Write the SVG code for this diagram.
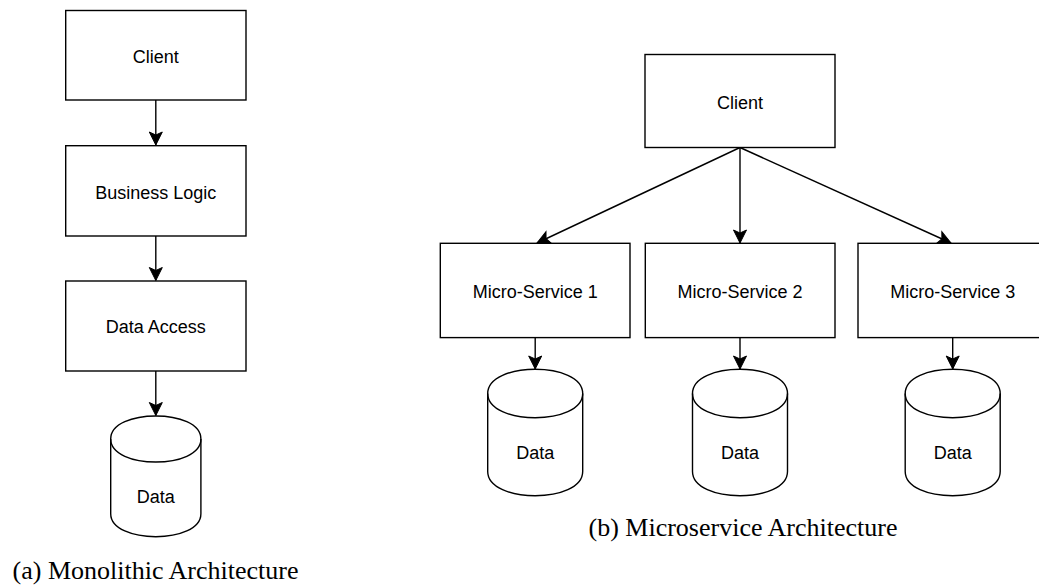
<svg xmlns="http://www.w3.org/2000/svg" width="1039" height="586" viewBox="0 0 1039 586">
<style>
.box{fill:#fff;stroke:#000;stroke-width:1.4}
.lbl{font-family:"Liberation Sans",Arial,sans-serif;font-size:18px;fill:#000;text-anchor:middle}
.cap{font-family:"Liberation Serif","Times New Roman",serif;font-size:26px;fill:#000;text-anchor:middle}
.edge{fill:none;stroke:#000;stroke-width:1.4;marker-end:url(#arr)}
</style>
<defs>
<marker id="arr" markerUnits="userSpaceOnUse" markerWidth="16" markerHeight="16" viewBox="-14 -8 16 16" refX="0" refY="0" orient="auto">
<path d="M0,0 L-13,-6.5 L-10,0 L-13,6.5 Z" fill="#000" stroke="#000" stroke-width="1"/>
</marker>
</defs>
<rect width="1039" height="586" fill="#fff"/>
<g id="connectors">
<line class="edge" x1="155.8" y1="100" x2="155.8" y2="145"/>
<line class="edge" x1="155.8" y1="236" x2="155.8" y2="280.5"/>
<line class="edge" x1="155.8" y1="371" x2="155.8" y2="415.5"/>
<line class="edge" x1="740" y1="147.5" x2="537" y2="243"/>
<line class="edge" x1="740" y1="147.5" x2="740" y2="243"/>
<line class="edge" x1="740" y1="147.5" x2="951" y2="243"/>
<line class="edge" x1="535.2" y1="337.5" x2="535.2" y2="369"/>
<line class="edge" x1="740" y1="337.5" x2="740" y2="369"/>
<line class="edge" x1="952.7" y1="337.5" x2="952.7" y2="369"/>
</g>
<g id="a-client"><rect class="box" x="65.7" y="10.5" width="180.3" height="89.5"/><text class="lbl" x="155.8" y="63">Client</text></g>
<g id="a-business"><rect class="box" x="65.7" y="145.7" width="180.3" height="90.3"/><text class="lbl" x="155.8" y="199">Business Logic</text></g>
<g id="a-access"><rect class="box" x="65.7" y="281" width="180.3" height="90"/><text class="lbl" x="155.8" y="333">Data Access</text></g>
<g id="a-data">
<path class="box" d="M110.7,439 C110.7,408.3 200.9,408.3 200.9,439 L200.9,513.7 C200.9,544.4 110.7,544.4 110.7,513.7 Z"/>
<path class="box" style="fill:none" d="M110.7,439 C110.7,469.7 200.9,469.7 200.9,439"/>
<text class="lbl" x="155.8" y="503">Data</text>
</g>
<g id="b-client"><rect class="box" x="645" y="54.5" width="190" height="93"/><text class="lbl" x="740" y="109.3">Client</text></g>
<g id="b-ms1"><rect class="box" x="440.3" y="243.3" width="189.7" height="94.3"/><text class="lbl" x="535.2" y="298">Micro-Service 1</text></g>
<g id="b-ms2"><rect class="box" x="645.3" y="243.3" width="189.7" height="94.3"/><text class="lbl" x="740" y="298">Micro-Service 2</text></g>
<g id="b-ms3"><rect class="box" x="858" y="243.3" width="190" height="94.3"/><text class="lbl" x="952.7" y="298">Micro-Service 3</text></g>
<g id="b-data1">
<path class="box" d="M487.7,393.5 C487.7,361.2 582.7,361.2 582.7,393.5 L582.7,471.5 C582.7,503.8 487.7,503.8 487.7,471.5 Z"/>
<path class="box" style="fill:none" d="M487.7,393.5 C487.7,425.8 582.7,425.8 582.7,393.5"/>
<text class="lbl" x="535.2" y="459">Data</text>
</g>
<g id="b-data2">
<path class="box" d="M692.5,393.5 C692.5,361.2 787.5,361.2 787.5,393.5 L787.5,471.5 C787.5,503.8 692.5,503.8 692.5,471.5 Z"/>
<path class="box" style="fill:none" d="M692.5,393.5 C692.5,425.8 787.5,425.8 787.5,393.5"/>
<text class="lbl" x="740" y="459">Data</text>
</g>
<g id="b-data3">
<path class="box" d="M905.2,393.5 C905.2,361.2 1000.2,361.2 1000.2,393.5 L1000.2,471.5 C1000.2,503.8 905.2,503.8 905.2,471.5 Z"/>
<path class="box" style="fill:none" d="M905.2,393.5 C905.2,425.8 1000.2,425.8 1000.2,393.5"/>
<text class="lbl" x="952.7" y="459">Data</text>
</g>
<text class="cap" x="155.5" y="579">(a) Monolithic Architecture</text>
<text class="cap" x="743" y="536">(b) Microservice Architecture</text>
</svg>
